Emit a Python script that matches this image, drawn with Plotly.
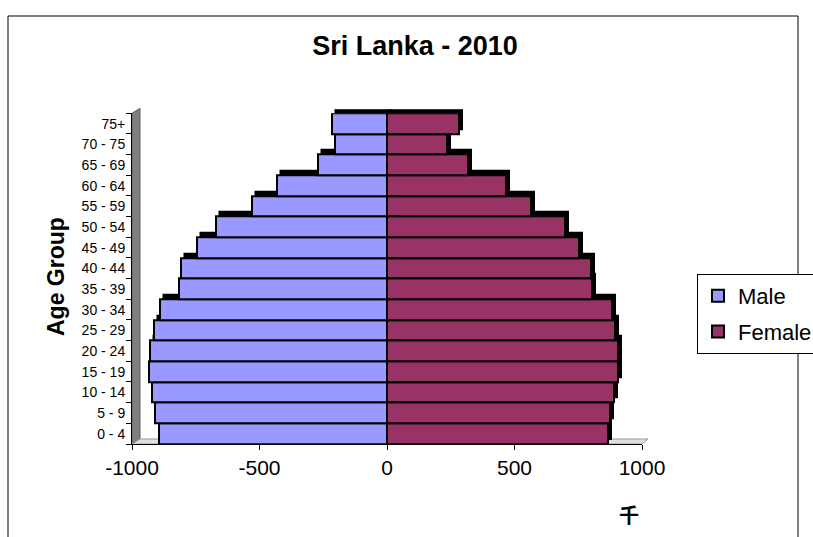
import plotly.graph_objects as go

# Sri Lanka population by age group, 2010 (thousands)
age_groups = ["0 - 4", "5 - 9", "10 - 14", "15 - 19", "20 - 24", "25 - 29",
              "30 - 34", "35 - 39", "40 - 44", "45 - 49", "50 - 54", "55 - 59",
              "60 - 64", "65 - 69", "70 - 75", "75+"]
male = [895, 908, 921, 935, 930, 914, 891, 814, 808, 744, 670, 531, 431, 271, 205, 215]
female = [866, 875, 889, 905, 905, 895, 882, 803, 800, 752, 699, 563, 465, 317, 235, 282]
x_ticks = [-1000, -500, 0, 500, 1000]

male_neg = [-v for v in male]

MALE_COLOR = "#9999ff"
FEMALE_COLOR = "#993366"
FONT = "Liberation Sans, Arial, sans-serif"

W, H = 813, 537


def px_x(p):
    return p / W


def px_y(p):
    return 1 - p / H


fig = go.Figure()

# depth of each bar, drawn as a dark block slightly behind the front face
for vals in (male_neg, female):
    fig.add_trace(go.Bar(
        y=age_groups, x=vals, orientation="h",
        marker=dict(color="#000000", line=dict(color="#000000", width=1.5)),
        xaxis="x2", yaxis="y2", showlegend=False, hoverinfo="skip",
    ))

# front faces of the bars
fig.add_trace(go.Bar(
    y=age_groups, x=male_neg, orientation="h", name="Male",
    marker=dict(color=MALE_COLOR, line=dict(color="#000000", width=2)),
    xaxis="x3", yaxis="y3", legendgroup="m",
))
fig.add_trace(go.Bar(
    y=age_groups, x=female, orientation="h", name="Female",
    marker=dict(color=FEMALE_COLOR, line=dict(color="#000000", width=2)),
    xaxis="x3", yaxis="y3", legendgroup="f",
))

cat_range = [-0.5, len(age_groups) - 0.5]

fig.update_layout(
    width=W, height=H,
    margin=dict(l=0, r=0, t=0, b=0, autoexpand=False),
    paper_bgcolor="white",
    plot_bgcolor="rgba(0,0,0,0)",
    barmode="overlay", bargap=0,
    font=dict(family=FONT, color="black"),
    title=dict(text="<b>Sri Lanka - 2010</b>", x=415 / W, xanchor="center",
               y=px_y(46), yanchor="middle", yref="container",
               font=dict(size=27, family=FONT, color="black")),
    # back wall with its gridlines
    xaxis=dict(domain=[px_x(140), px_x(648)], range=[-1000, 1000],
               tickvals=x_ticks, showticklabels=False, ticks="",
               showgrid=True, gridcolor="#404040", gridwidth=1,
               zeroline=False, showline=True, mirror=True,
               linecolor="#999999", linewidth=1.5, fixedrange=True,
               automargin=False),
    yaxis=dict(domain=[px_y(439), px_y(108.3)], type="category",
               categoryorder="array", categoryarray=age_groups,
               range=cat_range, showticklabels=False, ticks="",
               showgrid=False, zeroline=False, showline=True, mirror=True,
               linecolor="#999999", linewidth=1.5, fixedrange=True,
               automargin=False),
    # depth blocks
    xaxis2=dict(domain=[px_x(136), px_x(646)], range=[-1000, 1000],
                visible=False, anchor="y2", fixedrange=True, automargin=False),
    yaxis2=dict(domain=[px_y(440), px_y(109.3)], type="category",
                categoryorder="array", categoryarray=age_groups,
                range=cat_range, visible=False, anchor="x2", fixedrange=True,
                automargin=False),
    # front plane with the axes
    xaxis3=dict(domain=[px_x(132), px_x(642)], range=[-1000, 1000],
                tickvals=x_ticks, ticktext=[str(v) for v in x_ticks],
                ticks="outside", ticklen=5, tickcolor="black",
                tickfont=dict(size=21, family=FONT),
                showgrid=False, zeroline=False, showline=True,
                linecolor="black", linewidth=1, anchor="y3", fixedrange=True,
                automargin=False),
    yaxis3=dict(domain=[px_y(444), px_y(113.3)], type="category",
                categoryorder="array", categoryarray=age_groups,
                range=cat_range, ticks="outside", ticklen=5,
                tickson="boundaries", tickcolor="black",
                tickfont=dict(size=14, family=FONT), ticklabelstandoff=3,
                showgrid=False, zeroline=False, showline=True,
                linecolor="black", linewidth=1, anchor="x3", fixedrange=True,
                automargin=False),
    legend=dict(x=px_x(697), xanchor="left", y=px_y(274), yanchor="top",
                bgcolor="white", bordercolor="black", borderwidth=1,
                font=dict(size=22, family=FONT), traceorder="grouped",
                tracegroupgap=4),
    showlegend=True,
)

# side wall and floor of the 3-D frame
fig.add_shape(type="path", xref="paper", yref="paper", layer="below",
              path=f"M {px_x(132)} {px_y(444)} L {px_x(132)} {px_y(113.3)} "
                   f"L {px_x(140)} {px_y(108.3)} L {px_x(140)} {px_y(439)} Z",
              fillcolor="#808080", line=dict(color="#606060", width=1))
fig.add_shape(type="path", xref="paper", yref="paper", layer="below",
              path=f"M {px_x(132)} {px_y(444)} L {px_x(642)} {px_y(444)} "
                   f"L {px_x(648)} {px_y(439)} L {px_x(140)} {px_y(439)} Z",
              fillcolor="#e0e0e0", line=dict(color="#999999", width=1))

# outer chart border
fig.add_shape(type="rect", xref="paper", yref="paper", layer="below",
              x0=px_x(8), x1=px_x(798), y0=-0.05, y1=px_y(16),
              line=dict(color="black", width=1), fillcolor="rgba(0,0,0,0)")

# axis titles
fig.add_annotation(text="<b>Age Group</b>", xref="paper", yref="paper",
                   x=px_x(56), y=px_y(277), xanchor="center", yanchor="middle",
                   textangle=-90, showarrow=False,
                   font=dict(size=23, family=FONT, color="black"))
fig.add_annotation(text="<b>千</b>", xref="paper", yref="paper",
                   x=px_x(629), y=px_y(514), xanchor="center", yanchor="middle",
                   showarrow=False,
                   font=dict(size=20, family="Noto Sans CJK SC", color="black"))

fig.write_html("out.html")
